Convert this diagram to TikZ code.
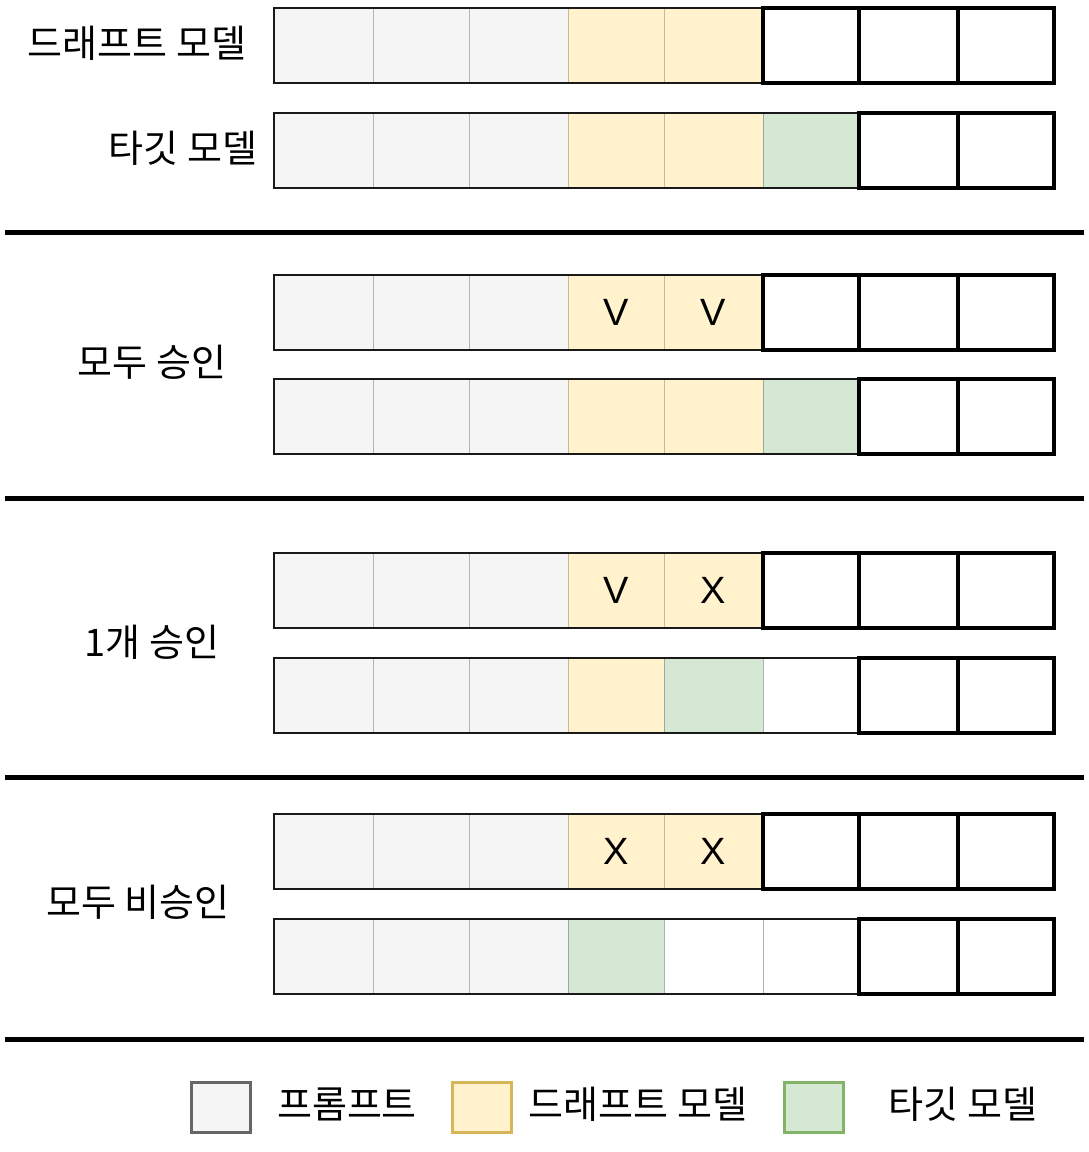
\documentclass[tikz,border=0pt]{standalone}
\usepackage{fontspec}
\setmainfont{Noto Sans CJK KR}
\newfontfamily\latinsans{Liberation Sans}
\definecolor{promptfill}{HTML}{F5F5F5}
\definecolor{promptline}{HTML}{B3B3B3}
\definecolor{draftfill}{HTML}{FFF2CC}
\definecolor{draftline}{HTML}{C8B893}
\definecolor{targetfill}{HTML}{D5E8D4}
\definecolor{targetline}{HTML}{A0A89A}
\definecolor{whiteline}{HTML}{B0B0B0}
\definecolor{legP}{HTML}{666666}
\definecolor{legD}{HTML}{D6B656}
\definecolor{legT}{HTML}{82B366}
\newcommand\cellrow[3]{%
  \foreach \s/\t [count=\i] in {#3}{%
    \pgfmathsetmacro\xa{{274,373,469,568,664,763,859,958,1054}[\i-1]}%
    \pgfmathsetmacro\xb{{274,373,469,568,664,763,859,958,1054}[\i]}%
    \pgfmathsetmacro\ww{\xb-\xa}%
    \node[\s, minimum width=\ww pt] (#1-\i) at (\xa,#2) {\t};
  }%
}
\begin{document}
\begin{tikzpicture}[x=1pt,y=-1pt,
  cell/.style={draw, minimum height=75pt, inner sep=0pt, outer sep=0pt, anchor=north west,
    font=\latinsans\fontsize{38}{38}\selectfont, line width=1pt},
  cellP/.style={cell, fill=promptfill, draw=promptline},
  cellD/.style={cell, fill=draftfill, draw=draftline},
  cellT/.style={cell, fill=targetfill, draw=targetline},
  cellW/.style={cell, fill=white, draw=whiteline},
  cellE/.style={cell, fill=white, draw=black, line width=3.8pt},
  thinout/.style={draw=black!90, line width=2pt},
  sepline/.style={line width=5pt},
  lbl/.style={font=\fontsize{38}{44}\selectfont, inner sep=0pt},
  legbox/.style={minimum width=59pt, minimum height=50pt, inner sep=0pt, line width=3pt},
]
\useasboundingbox (0,0) rectangle (1089,1152);

\cellrow{ra}{8}{cellP/{},cellP/{},cellP/{},cellD/{},cellD/{},cellE/{},cellE/{},cellE/{}}
\draw[thinout] (ra-1.north west) rectangle (ra-5.south east);
\cellrow{rb}{113}{cellP/{},cellP/{},cellP/{},cellD/{},cellD/{},cellT/{},cellE/{},cellE/{}}
\draw[thinout] (rb-1.north west) rectangle (rb-6.south east);

\cellrow{rc}{275}{cellP/{},cellP/{},cellP/{},cellD/V,cellD/V,cellE/{},cellE/{},cellE/{}}
\draw[thinout] (rc-1.north west) rectangle (rc-5.south east);
\cellrow{rd}{379}{cellP/{},cellP/{},cellP/{},cellD/{},cellD/{},cellT/{},cellE/{},cellE/{}}
\draw[thinout] (rd-1.north west) rectangle (rd-6.south east);

\cellrow{re}{553}{cellP/{},cellP/{},cellP/{},cellD/V,cellD/X,cellE/{},cellE/{},cellE/{}}
\draw[thinout] (re-1.north west) rectangle (re-5.south east);
\cellrow{rf}{658}{cellP/{},cellP/{},cellP/{},cellD/{},cellT/{},cellW/{},cellE/{},cellE/{}}
\draw[thinout] (rf-1.north west) rectangle (rf-6.south east);

\cellrow{rg}{814}{cellP/{},cellP/{},cellP/{},cellD/X,cellD/X,cellE/{},cellE/{},cellE/{}}
\draw[thinout] (rg-1.north west) rectangle (rg-5.south east);
\cellrow{rh}{919}{cellP/{},cellP/{},cellP/{},cellT/{},cellW/{},cellW/{},cellE/{},cellE/{}}
\draw[thinout] (rh-1.north west) rectangle (rh-6.south east);

% redraw thick cells on top
\foreach \r/\k in {ra/6,ra/7,ra/8,rb/7,rb/8,rc/6,rc/7,rc/8,rd/7,rd/8,re/6,re/7,re/8,rf/7,rf/8,rg/6,rg/7,rg/8,rh/7,rh/8}{
  \draw[line width=3.8pt] (\r-\k.north west) rectangle (\r-\k.south east);
}

% labels
\node[lbl] (l1) at (137,43) {드래프트 모델};
\node[lbl] (l2) at (183,148) {타깃 모델};
\node[lbl] (l3) at (152,362) {모두 승인};
\node[lbl] (l4) at (152,642) {1개 승인};
\node[lbl] (l5) at (138,902) {모두 비승인};

% separators
\draw[sepline] (5,232) -- (1084,232);
\draw[sepline] (5,498) -- (1084,498);
\draw[sepline] (5,777) -- (1084,777);
\draw[sepline] (5,1039) -- (1084,1039);

% legend
\node[legbox, draw=legP, fill=promptfill] (k1) at (220.5,1107) {};
\node[legbox, draw=legD, fill=draftfill] (k2) at (481.5,1107) {};
\node[legbox, draw=legT, fill=targetfill] (k3) at (814,1107) {};
\node[lbl] (t1) at (347,1104) {프롬프트};
\node[lbl] (t2) at (638,1104) {드래프트 모델};
\node[lbl] (t3) at (963,1104) {타깃 모델};
\end{tikzpicture}
\end{document}
